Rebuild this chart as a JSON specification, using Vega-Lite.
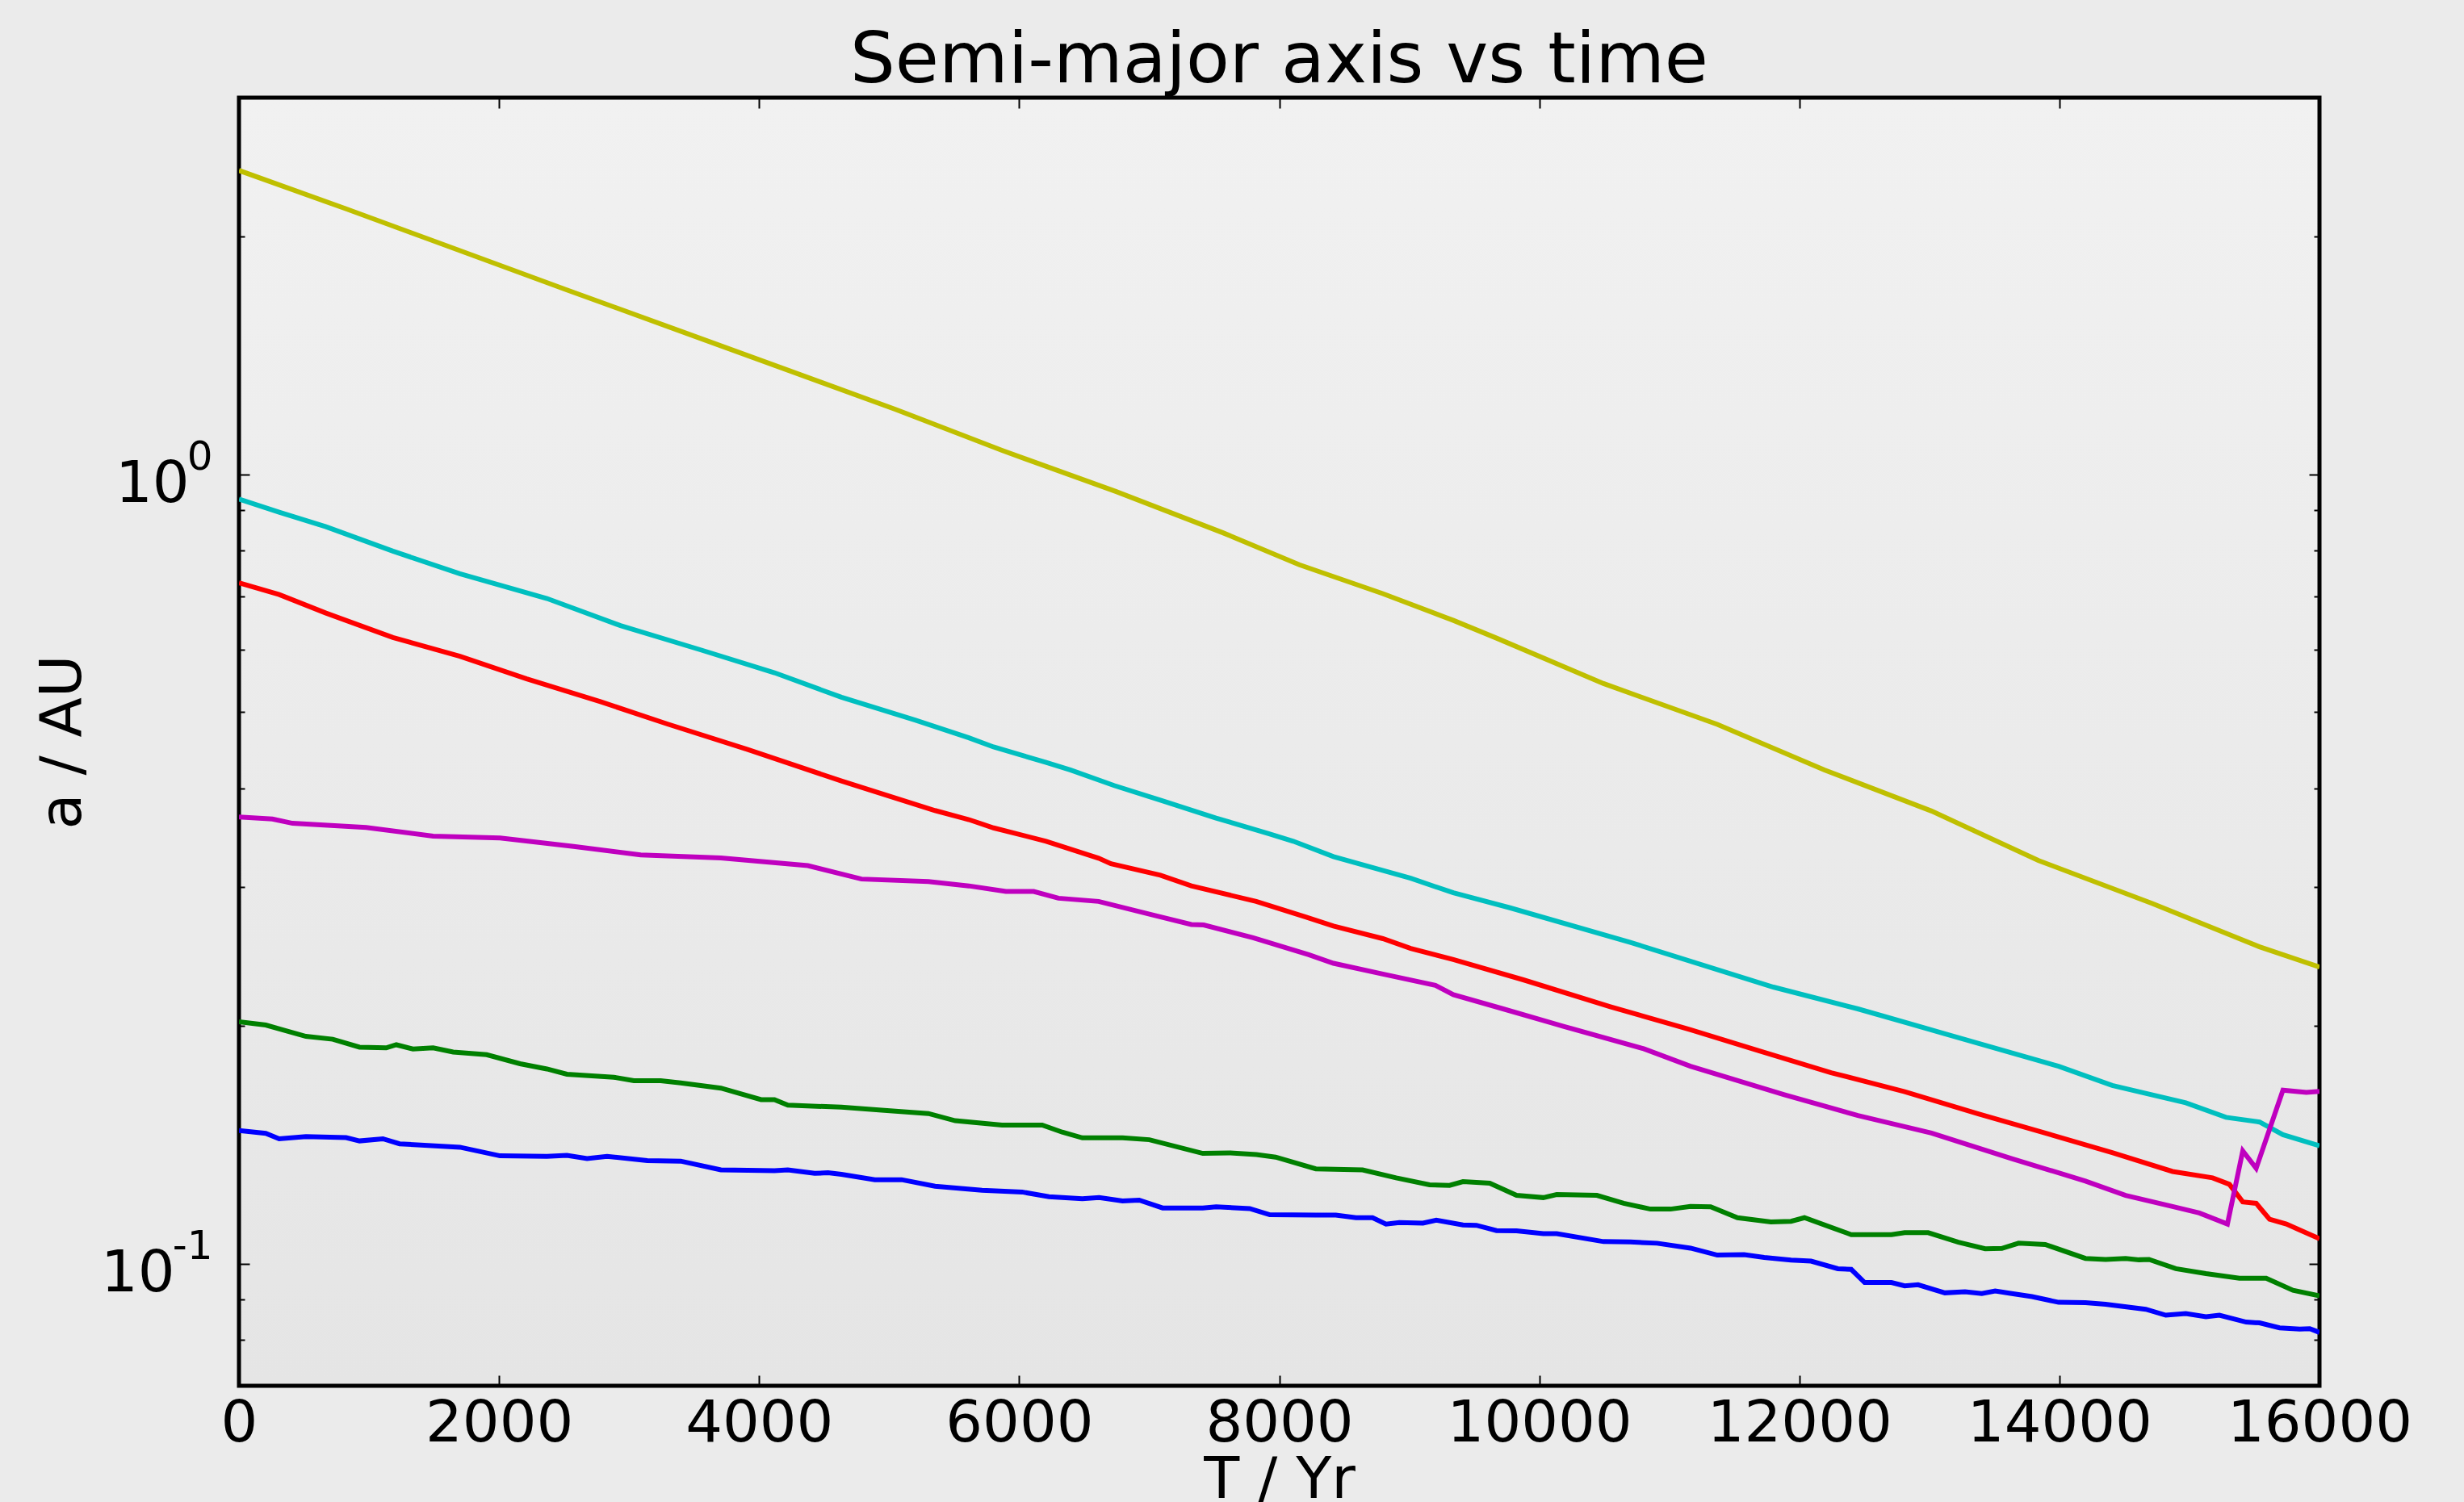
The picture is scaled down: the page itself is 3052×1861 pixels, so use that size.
{
  "$schema": "https://vega.github.io/schema/vega-lite/v6.json",
  "width": 2577,
  "height": 1596,
  "autosize": {"type": "none"},
  "padding": {"left": 296, "top": 121, "right": 179, "bottom": 144},
  "background": "#ebebeb",
  "title": {"text": "Semi-major axis vs time", "fontSize": 88, "font": "DejaVu Sans", "fontWeight": "normal", "color": "#000000", "frame": "group", "anchor": "middle", "baseline": "alphabetic", "offset": 14, "dy": 84},
  "config": {
    "view": {"stroke": "#000000", "strokeWidth": 5, "fill": {"gradient": "linear", "x1": 0, "y1": 0, "x2": 0, "y2": 1, "stops": [{"offset": 0, "color": "#f1f1f1"}, {"offset": 1, "color": "#e5e5e5"}]}},
    "axis": {"domain": false, "grid": false, "tickColor": "#000000", "tickWidth": 2, "labelFont": "DejaVu Sans", "labelFontSize": 72, "labelColor": "#000000", "labelLimit": 0, "titleFont": "DejaVu Sans", "titleFontSize": 72, "titleFontWeight": "normal", "titleColor": "#000000", "titleLimit": 0, "labelFlush": false, "labelOverlap": false}
  },
  "datasets": {
    "d": [
      {"s":"1","t":0,"a":0.1474},{"s":"1","t":206,"a":0.1462},{"s":"1","t":309,"a":0.1439},{"s":"1","t":515,"a":0.1448},{"s":"1","t":824,"a":0.1444},{"s":"1","t":927,"a":0.143},{"s":"1","t":1107,"a":0.1439},{"s":"1","t":1235,"a":0.1418},{"s":"1","t":1699,"a":0.1404},{"s":"1","t":2008,"a":0.1369},{"s":"1","t":2368,"a":0.1367},{"s":"1","t":2522,"a":0.1371},{"s":"1","t":2677,"a":0.1358},{"s":"1","t":2831,"a":0.1367},{"s":"1","t":3140,"a":0.135},{"s":"1","t":3397,"a":0.1348},{"s":"1","t":3706,"a":0.1314},{"s":"1","t":4118,"a":0.1311},{"s":"1","t":4221,"a":0.1314},{"s":"1","t":4427,"a":0.1301},{"s":"1","t":4530,"a":0.1303},{"s":"1","t":4633,"a":0.1297},{"s":"1","t":4890,"a":0.1277},{"s":"1","t":5096,"a":0.1277},{"s":"1","t":5353,"a":0.1253},{"s":"1","t":5714,"a":0.1238},{"s":"1","t":6023,"a":0.1232},{"s":"1","t":6229,"a":0.1215},{"s":"1","t":6486,"a":0.1208},{"s":"1","t":6615,"a":0.1212},{"s":"1","t":6795,"a":0.12},{"s":"1","t":6923,"a":0.1203},{"s":"1","t":7103,"a":0.1176},{"s":"1","t":7412,"a":0.1176},{"s":"1","t":7515,"a":0.118},{"s":"1","t":7773,"a":0.1174},{"s":"1","t":7927,"a":0.1153},{"s":"1","t":8281,"a":0.1152},{"s":"1","t":8435,"a":0.1152},{"s":"1","t":8590,"a":0.1143},{"s":"1","t":8718,"a":0.1143},{"s":"1","t":8821,"a":0.1122},{"s":"1","t":8924,"a":0.1127},{"s":"1","t":9105,"a":0.1125},{"s":"1","t":9208,"a":0.1135},{"s":"1","t":9413,"a":0.1119},{"s":"1","t":9516,"a":0.1118},{"s":"1","t":9671,"a":0.1101},{"s":"1","t":9825,"a":0.11},{"s":"1","t":10031,"a":0.1091},{"s":"1","t":10134,"a":0.1091},{"s":"1","t":10494,"a":0.1066},{"s":"1","t":10700,"a":0.1065},{"s":"1","t":10906,"a":0.1061},{"s":"1","t":11163,"a":0.1046},{"s":"1","t":11369,"a":0.1025},{"s":"1","t":11575,"a":0.1026},{"s":"1","t":11730,"a":0.1018},{"s":"1","t":11936,"a":0.101},{"s":"1","t":12090,"a":0.1007},{"s":"1","t":12296,"a":0.0985},{"s":"1","t":12399,"a":0.0983},{"s":"1","t":12502,"a":0.0946},{"s":"1","t":12708,"a":0.0946},{"s":"1","t":12810,"a":0.0937},{"s":"1","t":12913,"a":0.094},{"s":"1","t":13119,"a":0.0918},{"s":"1","t":13274,"a":0.0921},{"s":"1","t":13403,"a":0.0916},{"s":"1","t":13506,"a":0.0923},{"s":"1","t":13634,"a":0.0916},{"s":"1","t":13789,"a":0.0908},{"s":"1","t":13994,"a":0.0893},{"s":"1","t":14200,"a":0.0892},{"s":"1","t":14355,"a":0.0888},{"s":"1","t":14664,"a":0.0875},{"s":"1","t":14818,"a":0.086},{"s":"1","t":14972,"a":0.0864},{"s":"1","t":15127,"a":0.0856},{"s":"1","t":15230,"a":0.086},{"s":"1","t":15436,"a":0.0843},{"s":"1","t":15539,"a":0.0841},{"s":"1","t":15693,"a":0.0829},{"s":"1","t":15848,"a":0.0826},{"s":"1","t":15925,"a":0.0827},{"s":"1","t":16000,"a":0.0818},
      {"s":"2","t":0,"a":0.2024},{"s":"2","t":206,"a":0.2005},{"s":"2","t":515,"a":0.194},{"s":"2","t":721,"a":0.1924},{"s":"2","t":927,"a":0.188},{"s":"2","t":1132,"a":0.1876},{"s":"2","t":1210,"a":0.1893},{"s":"2","t":1338,"a":0.187},{"s":"2","t":1493,"a":0.1876},{"s":"2","t":1647,"a":0.1853},{"s":"2","t":1905,"a":0.1839},{"s":"2","t":2162,"a":0.1791},{"s":"2","t":2368,"a":0.1764},{"s":"2","t":2522,"a":0.1737},{"s":"2","t":2883,"a":0.1722},{"s":"2","t":3037,"a":0.1705},{"s":"2","t":3243,"a":0.1705},{"s":"2","t":3397,"a":0.1694},{"s":"2","t":3706,"a":0.1668},{"s":"2","t":4015,"a":0.1613},{"s":"2","t":4118,"a":0.1613},{"s":"2","t":4221,"a":0.1587},{"s":"2","t":4633,"a":0.1578},{"s":"2","t":4942,"a":0.1564},{"s":"2","t":5302,"a":0.1549},{"s":"2","t":5508,"a":0.1517},{"s":"2","t":5868,"a":0.1498},{"s":"2","t":6177,"a":0.1498},{"s":"2","t":6331,"a":0.1467},{"s":"2","t":6486,"a":0.1443},{"s":"2","t":6795,"a":0.1443},{"s":"2","t":7001,"a":0.1435},{"s":"2","t":7412,"a":0.1379},{"s":"2","t":7618,"a":0.1381},{"s":"2","t":7824,"a":0.1374},{"s":"2","t":7972,"a":0.1364},{"s":"2","t":8281,"a":0.1318},{"s":"2","t":8641,"a":0.1314},{"s":"2","t":8899,"a":0.1284},{"s":"2","t":9156,"a":0.1258},{"s":"2","t":9310,"a":0.1256},{"s":"2","t":9413,"a":0.127},{"s":"2","t":9619,"a":0.1264},{"s":"2","t":9825,"a":0.122},{"s":"2","t":10031,"a":0.1212},{"s":"2","t":10134,"a":0.1223},{"s":"2","t":10443,"a":0.122},{"s":"2","t":10649,"a":0.1192},{"s":"2","t":10855,"a":0.1172},{"s":"2","t":11009,"a":0.1172},{"s":"2","t":11163,"a":0.1181},{"s":"2","t":11318,"a":0.118},{"s":"2","t":11524,"a":0.1143},{"s":"2","t":11781,"a":0.1129},{"s":"2","t":11936,"a":0.1131},{"s":"2","t":12039,"a":0.1143},{"s":"2","t":12399,"a":0.1088},{"s":"2","t":12708,"a":0.1088},{"s":"2","t":12810,"a":0.1094},{"s":"2","t":12991,"a":0.1094},{"s":"2","t":13223,"a":0.1064},{"s":"2","t":13429,"a":0.1044},{"s":"2","t":13557,"a":0.1045},{"s":"2","t":13686,"a":0.1061},{"s":"2","t":13891,"a":0.1057},{"s":"2","t":14200,"a":0.1015},{"s":"2","t":14355,"a":0.1012},{"s":"2","t":14509,"a":0.1015},{"s":"2","t":14612,"a":0.1011},{"s":"2","t":14689,"a":0.1012},{"s":"2","t":14895,"a":0.0985},{"s":"2","t":15127,"a":0.0971},{"s":"2","t":15384,"a":0.0958},{"s":"2","t":15590,"a":0.0958},{"s":"2","t":15796,"a":0.0925},{"s":"2","t":16000,"a":0.091},
      {"s":"3","t":0,"a":0.7284},{"s":"3","t":309,"a":0.704},{"s":"3","t":669,"a":0.667},{"s":"3","t":1184,"a":0.621},{"s":"3","t":1699,"a":0.588},{"s":"3","t":2213,"a":0.5505},{"s":"3","t":2780,"a":0.515},{"s":"3","t":3294,"a":0.4826},{"s":"3","t":3912,"a":0.448},{"s":"3","t":4633,"a":0.4087},{"s":"3","t":5353,"a":0.3749},{"s":"3","t":5613,"a":0.3651},{"s":"3","t":5803,"a":0.3564},{"s":"3","t":6207,"a":0.3428},{"s":"3","t":6611,"a":0.3262},{"s":"3","t":6706,"a":0.321},{"s":"3","t":7086,"a":0.3105},{"s":"3","t":7324,"a":0.3009},{"s":"3","t":7823,"a":0.2876},{"s":"3","t":8203,"a":0.2749},{"s":"3","t":8417,"a":0.2676},{"s":"3","t":8797,"a":0.258},{"s":"3","t":9011,"a":0.2507},{"s":"3","t":9339,"a":0.2428},{"s":"3","t":9877,"a":0.2288},{"s":"3","t":10546,"a":0.2115},{"s":"3","t":11163,"a":0.1978},{"s":"3","t":11678,"a":0.1863},{"s":"3","t":12244,"a":0.1745},{"s":"3","t":12810,"a":0.1651},{"s":"3","t":13377,"a":0.1547},{"s":"3","t":13891,"a":0.1463},{"s":"3","t":14406,"a":0.1382},{"s":"3","t":14870,"a":0.1308},{"s":"3","t":15178,"a":0.1284},{"s":"3","t":15307,"a":0.126},{"s":"3","t":15410,"a":0.1197},{"s":"3","t":15513,"a":0.1192},{"s":"3","t":15616,"a":0.1138},{"s":"3","t":15745,"a":0.1122},{"s":"3","t":16000,"a":0.1075},
      {"s":"4","t":0,"a":0.93},{"s":"4","t":309,"a":0.895},{"s":"4","t":669,"a":0.858},{"s":"4","t":1184,"a":0.799},{"s":"4","t":1699,"a":0.748},{"s":"4","t":2368,"a":0.696},{"s":"4","t":2934,"a":0.643},{"s":"4","t":3552,"a":0.599},{"s":"4","t":4118,"a":0.5604},{"s":"4","t":4633,"a":0.5217},{"s":"4","t":5199,"a":0.4882},{"s":"4","t":5613,"a":0.4636},{"s":"4","t":5803,"a":0.4513},{"s":"4","t":6207,"a":0.4314},{"s":"4","t":6397,"a":0.4218},{"s":"4","t":6730,"a":0.4033},{"s":"4","t":7110,"a":0.3854},{"s":"4","t":7514,"a":0.3668},{"s":"4","t":7918,"a":0.3505},{"s":"4","t":8108,"a":0.3428},{"s":"4","t":8417,"a":0.3277},{"s":"4","t":9011,"a":0.3077},{"s":"4","t":9339,"a":0.2949},{"s":"4","t":9774,"a":0.2823},{"s":"4","t":10700,"a":0.2552},{"s":"4","t":11800,"a":0.224},{"s":"4","t":12450,"a":0.2102},{"s":"4","t":13119,"a":0.1955},{"s":"4","t":13994,"a":0.1778},{"s":"4","t":14406,"a":0.1681},{"s":"4","t":14972,"a":0.1598},{"s":"4","t":15281,"a":0.1532},{"s":"4","t":15539,"a":0.1511},{"s":"4","t":15719,"a":0.1456},{"s":"4","t":16000,"a":0.141},
      {"s":"5","t":0,"a":0.368},{"s":"5","t":257,"a":0.3658},{"s":"5","t":412,"a":0.3612},{"s":"5","t":978,"a":0.3568},{"s":"5","t":1493,"a":0.348},{"s":"5","t":2008,"a":0.346},{"s":"5","t":2574,"a":0.3377},{"s":"5","t":3089,"a":0.3294},{"s":"5","t":3706,"a":0.3265},{"s":"5","t":4375,"a":0.3192},{"s":"5","t":4787,"a":0.307},{"s":"5","t":5302,"a":0.3048},{"s":"5","t":5613,"a":0.3009},{"s":"5","t":5898,"a":0.2961},{"s":"5","t":6112,"a":0.2961},{"s":"5","t":6302,"a":0.2903},{"s":"5","t":6611,"a":0.2876},{"s":"5","t":7039,"a":0.2761},{"s":"5","t":7324,"a":0.2689},{"s":"5","t":7419,"a":0.2685},{"s":"5","t":7799,"a":0.2587},{"s":"5","t":8227,"a":0.2462},{"s":"5","t":8417,"a":0.2401},{"s":"5","t":8797,"a":0.2327},{"s":"5","t":9201,"a":0.2251},{"s":"5","t":9339,"a":0.2191},{"s":"5","t":9722,"a":0.2102},{"s":"5","t":10185,"a":0.1998},{"s":"5","t":10803,"a":0.1871},{"s":"5","t":11163,"a":0.1778},{"s":"5","t":11884,"a":0.1636},{"s":"5","t":12450,"a":0.154},{"s":"5","t":13016,"a":0.1463},{"s":"5","t":13634,"a":0.1358},{"s":"5","t":14200,"a":0.1272},{"s":"5","t":14509,"a":0.122},{"s":"5","t":14870,"a":0.1181},{"s":"5","t":15076,"a":0.1159},{"s":"5","t":15292,"a":0.1122},{"s":"5","t":15410,"a":0.1389},{"s":"5","t":15513,"a":0.132},{"s":"5","t":15719,"a":0.1658},{"s":"5","t":15899,"a":0.1647},{"s":"5","t":16000,"a":0.1652},
      {"s":"6","t":0,"a":2.426},{"s":"6","t":824,"a":2.169},{"s":"6","t":1699,"a":1.92},{"s":"6","t":2522,"a":1.712},{"s":"6","t":3397,"a":1.518},{"s":"6","t":4221,"a":1.355},{"s":"6","t":5045,"a":1.209},{"s":"6","t":5868,"a":1.072},{"s":"6","t":6743,"a":0.951},{"s":"6","t":7567,"a":0.843},{"s":"6","t":8155,"a":0.7679},{"s":"6","t":8796,"a":0.706},{"s":"6","t":9339,"a":0.6529},{"s":"6","t":9671,"a":0.62},{"s":"6","t":10494,"a":0.543},{"s":"6","t":11369,"a":0.482},{"s":"6","t":12193,"a":0.422},{"s":"6","t":13016,"a":0.3744},{"s":"6","t":13840,"a":0.324},{"s":"6","t":14715,"a":0.2858},{"s":"6","t":15539,"a":0.2519},{"s":"6","t":16000,"a":0.2375}
    ]
  },
  "data": {"name": "d"},
  "layer": [
    {
      "mark": {"type": "line", "strokeWidth": 6, "clip": true},
      "encoding": {
        "x": {"field": "t", "type": "quantitative", "scale": {"domain": [0, 16000], "nice": false, "zero": false},
              "axis": {"orient": "bottom", "values": [0,2000,4000,6000,8000,10000,12000,14000,16000], "format": "d", "tickSize": -13, "labelPadding": 24, "labelBaseline": "top", "title": "T / Yr", "titleY": 138, "titleBaseline": "alphabetic"}},
        "y": {"field": "a", "type": "quantitative", "scale": {"type": "log", "domain": [0.07, 3], "nice": false},
              "axis": {"orient": "left", "values": [0.1, 1], "tickSize": -13, "labelAlign": "right", "labelPadding": {"condition": {"test": "datum.value >= 1", "value": 75}, "value": 93}, "labelOffset": 12, "labelExpr": "'10'", "title": "a / AU", "titleX": -197, "titleBaseline": "alphabetic"}},
        "color": {"field": "s", "type": "nominal", "scale": {"domain": ["1","2","3","4","5","6"], "range": ["#0000ff","#008000","#ff0000","#00bfbf","#bf00bf","#bfbf00"]}, "legend": null}
      }
    },
    {
      "mark": {"type": "point", "opacity": 0},
      "encoding": {
        "x": {"field": "t", "type": "quantitative", "axis": {"orient": "top", "values": [0,2000,4000,6000,8000,10000,12000,14000,16000], "tickSize": -13, "labels": false, "title": null}},
        "y": {"field": "a", "type": "quantitative", "axis": {"orient": "right", "values": [0.1, 1], "tickSize": -13, "labels": false, "title": null}}
      }
    },
    {
      "mark": {"type": "point", "opacity": 0},
      "encoding": {
        "x": {"field": "t", "type": "quantitative", "axis": null},
        "y": {"field": "a", "type": "quantitative", "axis": {"orient": "left", "values": [0.07,0.08,0.09,0.2,0.3,0.4,0.5,0.6,0.7,0.8,0.9,2,3], "tickSize": -7, "labels": false, "title": null}}
      }
    },
    {
      "mark": {"type": "point", "opacity": 0},
      "encoding": {
        "x": {"field": "t", "type": "quantitative", "axis": null},
        "y": {"field": "a", "type": "quantitative", "axis": {"orient": "right", "values": [0.07,0.08,0.09,0.2,0.3,0.4,0.5,0.6,0.7,0.8,0.9,2,3], "tickSize": -7, "labels": false, "title": null}}
      }
    },
    {
      "mark": {"type": "point", "opacity": 0},
      "encoding": {
        "x": {"field": "t", "type": "quantitative", "axis": null},
        "y": {"field": "a", "type": "quantitative", "axis": {"orient": "left", "values": [0.1, 1], "ticks": false, "tickSize": 0, "labelAlign": "right", "labelPadding": 33, "labelOffset": -21, "labelFontSize": 50, "labelExpr": "datum.value >= 1 ? '0' : '-1'", "title": null}}
      }
    }
  ],
  "resolve": {"axis": {"x": "independent", "y": "independent"}}
}
